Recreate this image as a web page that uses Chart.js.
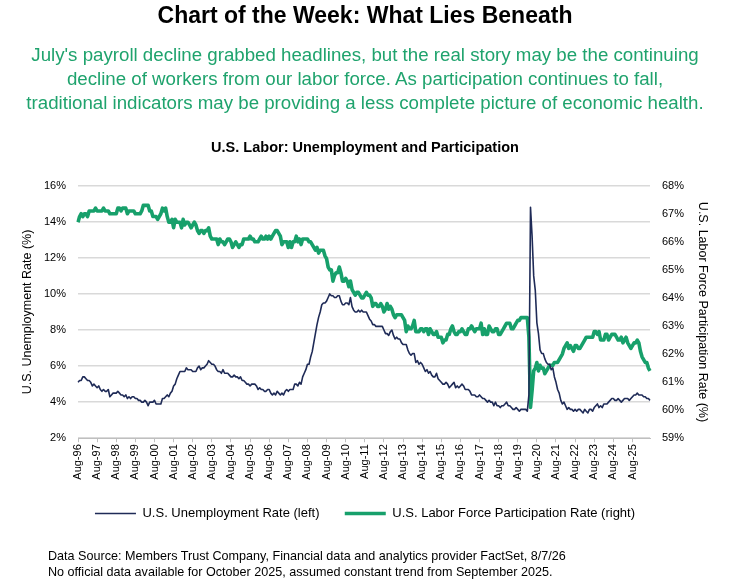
<!DOCTYPE html>
<html>
  <head>
    <meta charset="utf-8">
    <title>Chart of the Week: What Lies Beneath</title>
    <script src="https://cdn.jsdelivr.net/npm/chart.js@4"></script>
    <style>
      html, body { margin: 0; padding: 0; background: #fff; }
      body {
        position: relative; width: 730px; height: 584px; overflow: hidden;
        font-family: "Liberation Sans", Arial, sans-serif; color: #000;
      }
      #chart-box { position: absolute; left: 0; top: 0; width: 730px; height: 584px; }
      h1 {
        position: absolute; top: 1px; left: 0; width: 730px; margin: 0;
        text-align: center; font-size: 23px; line-height: 28px; font-weight: bold;
      }
      .lede {
        position: absolute; top: 43px; left: 0; width: 730px; margin: 0;
        text-align: center; font-size: 18.7px; line-height: 24px; color: #1fa36d;
      }
      .notes {
        position: absolute; top: 548px; left: 48px; margin: 0;
        font-size: 12.6px; line-height: 16px;
      }
    </style>
  </head>
  <body>
    <div id="chart-box"><canvas id="graph-labor"></canvas></div>
    <h1>Chart of the Week: What Lies Beneath</h1>
    <p class="lede">
      July's payroll decline grabbed headlines, but the real story may be the continuing<br>
      decline of workers from our labor force. As participation continues to fall,<br>
      traditional indicators may be providing a less complete picture of economic health.
    </p>
    <p class="notes">
      Data Source: Members Trust Company, Financial data and analytics provider FactSet, 8/7/26<br>
      No official data available for October 2025, assumed constant trend from September 2025.
    </p>

    <script>
      // Monthly series, Aug 1996 .. Jul 2026
      const firstYear = 1996
      const firstMonth = 7 // August
      const monthNames = ["Jan", "Feb", "Mar", "Apr", "May", "Jun", "Jul", "Aug", "Sep", "Oct", "Nov", "Dec"]

      const unemployment = [
        5.1, 5.2, 5.2, 5.4, 5.4,                                   // 1996 (Aug-Dec)
        5.3, 5.2, 5.2, 5.1, 4.9, 5.0, 4.9, 4.8, 4.9, 4.7, 4.6, 4.7, // 1997
        4.6, 4.6, 4.7, 4.3, 4.4, 4.5, 4.5, 4.5, 4.6, 4.5, 4.4, 4.4, // 1998
        4.3, 4.4, 4.2, 4.3, 4.2, 4.3, 4.3, 4.2, 4.2, 4.1, 4.1, 4.0, // 1999
        4.0, 4.1, 4.0, 3.8, 4.0, 4.0, 4.0, 4.1, 3.9, 3.9, 3.9, 3.9, // 2000
        4.2, 4.2, 4.3, 4.4, 4.3, 4.5, 4.6, 4.9, 5.0, 5.3, 5.5, 5.7, // 2001
        5.7, 5.7, 5.7, 5.9, 5.8, 5.8, 5.8, 5.7, 5.7, 5.7, 5.9, 6.0, // 2002
        5.8, 5.9, 5.9, 6.0, 6.1, 6.3, 6.2, 6.1, 6.1, 6.0, 5.8, 5.7, // 2003
        5.7, 5.6, 5.8, 5.6, 5.6, 5.6, 5.5, 5.4, 5.4, 5.5, 5.4, 5.4, // 2004
        5.3, 5.4, 5.2, 5.2, 5.1, 5.0, 5.0, 4.9, 5.0, 5.0, 5.0, 4.9, // 2005
        4.7, 4.8, 4.7, 4.7, 4.6, 4.6, 4.7, 4.7, 4.5, 4.4, 4.5, 4.4, // 2006
        4.6, 4.5, 4.4, 4.5, 4.4, 4.6, 4.7, 4.6, 4.7, 4.7, 4.7, 5.0, // 2007
        5.0, 4.9, 5.1, 5.0, 5.4, 5.6, 5.8, 6.1, 6.1, 6.5, 6.8, 7.3, // 2008
        7.8, 8.3, 8.7, 9.0, 9.4, 9.5, 9.5, 9.6, 9.8, 10.0, 9.9, 9.9, // 2009
        9.8, 9.8, 9.9, 9.9, 9.6, 9.4, 9.4, 9.5, 9.5, 9.4, 9.8, 9.3, // 2010
        9.1, 9.0, 9.0, 9.1, 9.0, 9.1, 9.0, 9.0, 9.0, 8.8, 8.6, 8.5, // 2011
        8.3, 8.3, 8.2, 8.2, 8.2, 8.2, 8.2, 8.0, 7.8, 7.8, 7.7, 7.9, // 2012
        8.0, 7.7, 7.5, 7.6, 7.5, 7.5, 7.3, 7.2, 7.2, 7.2, 6.9, 6.7, // 2013
        6.6, 6.7, 6.7, 6.2, 6.3, 6.1, 6.2, 6.1, 5.9, 5.7, 5.8, 5.6, // 2014
        5.7, 5.5, 5.4, 5.4, 5.6, 5.3, 5.2, 5.1, 5.0, 5.0, 5.1, 5.0, // 2015
        4.8, 4.9, 5.0, 5.1, 4.8, 4.9, 4.8, 4.9, 5.0, 4.9, 4.7, 4.7, // 2016
        4.7, 4.6, 4.4, 4.4, 4.4, 4.3, 4.3, 4.4, 4.3, 4.2, 4.2, 4.1, // 2017
        4.0, 4.1, 4.0, 4.0, 3.8, 4.0, 3.8, 3.8, 3.7, 3.8, 3.8, 3.9, // 2018
        4.0, 3.8, 3.8, 3.7, 3.6, 3.6, 3.7, 3.6, 3.5, 3.6, 3.6, 3.6, // 2019
        3.6, 3.5, 4.4, 14.8, 13.2, 11.0, 10.2, 8.4, 7.8, 6.9, 6.7, 6.7, // 2020
        6.4, 6.2, 6.1, 6.1, 5.8, 5.9, 5.4, 5.1, 4.7, 4.5, 4.1, 3.9, // 2021
        4.0, 3.8, 3.6, 3.7, 3.6, 3.6, 3.5, 3.6, 3.5, 3.6, 3.6, 3.5, // 2022
        3.4, 3.6, 3.5, 3.4, 3.6, 3.6, 3.5, 3.7, 3.8, 3.9, 3.7, 3.8, // 2023
        3.7, 3.9, 3.9, 3.9, 4.0, 4.1, 4.2, 4.2, 4.1, 4.1, 4.2, 4.1, // 2024
        4.0, 4.1, 4.2, 4.2, 4.2, 4.1, 4.2, 4.3, 4.4, 4.4, 4.5, 4.4, // 2025
        4.4, 4.4, 4.3, 4.3, 4.2, 4.2, 4.1,                          // 2026 (Jan-Jul)
      ]

      const participation = [
        66.7, 66.9, 67.0, 66.9, 67.0,                                     // 1996 (Aug-Dec)
        67.0, 66.9, 67.1, 67.1, 67.1, 67.1, 67.2, 67.1, 67.1, 67.1, 67.1, 67.2, // 1997
        67.1, 67.1, 67.1, 67.0, 67.0, 67.0, 67.0, 67.0, 67.2, 67.2, 67.1, 67.2, // 1998
        67.2, 67.2, 67.0, 67.1, 67.1, 67.1, 67.1, 67.0, 67.0, 67.0, 67.0, 67.1, // 1999
        67.3, 67.3, 67.3, 67.3, 67.1, 67.1, 66.9, 66.9, 66.9, 66.8, 66.9, 67.0, // 2000
        67.2, 67.1, 67.2, 66.9, 66.7, 66.7, 66.8, 66.5, 66.8, 66.7, 66.7, 66.7, // 2001
        66.5, 66.8, 66.6, 66.7, 66.7, 66.6, 66.5, 66.6, 66.7, 66.6, 66.4, 66.3, // 2002
        66.4, 66.4, 66.3, 66.4, 66.4, 66.5, 66.2, 66.1, 66.1, 66.1, 66.1, 65.9, // 2003
        66.1, 66.0, 66.0, 65.9, 66.0, 66.1, 66.1, 66.0, 65.8, 65.9, 66.0, 65.9, // 2004
        65.8, 65.9, 65.9, 66.1, 66.1, 66.1, 66.1, 66.2, 66.1, 66.1, 66.0, 66.0, // 2005
        66.0, 66.1, 66.2, 66.1, 66.1, 66.2, 66.1, 66.2, 66.1, 66.2, 66.3, 66.4, // 2006
        66.4, 66.3, 66.2, 65.9, 66.0, 66.0, 66.0, 65.8, 66.0, 65.8, 66.0, 66.0, // 2007
        66.2, 66.0, 66.1, 65.9, 66.1, 66.1, 66.1, 66.1, 66.0, 66.0, 65.9, 65.8, // 2008
        65.7, 65.8, 65.6, 65.7, 65.7, 65.7, 65.5, 65.4, 65.1, 65.0, 65.0, 64.6, // 2009
        64.8, 64.9, 64.9, 65.1, 64.9, 64.6, 64.6, 64.7, 64.6, 64.4, 64.6, 64.3, // 2010
        64.2, 64.1, 64.2, 64.2, 64.1, 64.0, 64.0, 64.1, 64.2, 64.1, 64.1, 64.0, // 2011
        63.7, 63.8, 63.8, 63.7, 63.7, 63.8, 63.7, 63.5, 63.6, 63.8, 63.6, 63.7, // 2012
        63.6, 63.4, 63.3, 63.4, 63.4, 63.4, 63.4, 63.3, 63.2, 62.8, 63.0, 62.9, // 2013
        62.9, 63.0, 63.2, 62.8, 62.8, 62.8, 62.9, 62.9, 62.8, 62.9, 62.9, 62.7, // 2014
        62.9, 62.8, 62.7, 62.7, 62.8, 62.6, 62.6, 62.6, 62.4, 62.5, 62.5, 62.7, // 2015
        62.7, 62.9, 63.0, 62.8, 62.7, 62.7, 62.8, 62.8, 62.9, 62.8, 62.7, 62.7, // 2016
        62.9, 62.9, 63.0, 62.9, 62.8, 62.9, 62.9, 62.9, 63.1, 62.7, 62.9, 62.7, // 2017
        62.7, 63.0, 62.9, 62.8, 62.8, 62.9, 62.9, 62.7, 62.7, 62.8, 62.9, 63.0, // 2018
        63.1, 63.1, 63.1, 62.9, 62.9, 63.0, 63.1, 63.2, 63.2, 63.3, 63.3, 63.3, // 2019
        63.3, 63.3, 62.6, 60.1, 60.7, 61.4, 61.5, 61.7, 61.4, 61.6, 61.5, 61.5, // 2020
        61.3, 61.4, 61.5, 61.6, 61.6, 61.6, 61.7, 61.7, 61.7, 61.8, 61.9, 62.0, // 2021
        62.2, 62.3, 62.4, 62.2, 62.3, 62.2, 62.1, 62.3, 62.3, 62.2, 62.2, 62.3, // 2022
        62.4, 62.5, 62.6, 62.6, 62.6, 62.6, 62.6, 62.8, 62.8, 62.7, 62.8, 62.5, // 2023
        62.5, 62.5, 62.7, 62.7, 62.5, 62.6, 62.7, 62.7, 62.7, 62.6, 62.5, 62.5, // 2024
        62.6, 62.4, 62.5, 62.6, 62.4, 62.3, 62.2, 62.3, 62.4, 62.4, 62.5, 62.4, // 2025
        62.1, 61.9, 61.8, 61.7, 61.7, 61.5, 61.4,                               // 2026 (Jan-Jul)
      ]

      const palette = {
        navy: "#1f2b57",
        green: "#17a06b",
        grid: "#d9d9d9",
        axis: "#bfbfbf",
      }

      // "Aug-96" style month labels, one per data point
      const monthLabels = unemployment.map((_, i) => {
        const m = firstMonth + i
        const year = firstYear + Math.floor(m / 12)
        return `${monthNames[m % 12]}-${String(year % 100).padStart(2, "0")}`
      })

      Chart.defaults.font.family = '"Liberation Sans", Arial, sans-serif'
      Chart.defaults.color = "#000"

      new Chart(document.getElementById("graph-labor"), {
        type: "line",
        data: {
          labels: monthLabels,
          datasets: [
            {
              label: "U.S. Unemployment Rate (left)",
              data: unemployment,
              yAxisID: "left",
              borderColor: palette.navy,
              backgroundColor: palette.navy,
              borderWidth: 1.6,
            },
            {
              label: "U.S. Labor Force Participation Rate (right)",
              data: participation,
              yAxisID: "right",
              borderColor: palette.green,
              backgroundColor: palette.green,
              borderWidth: 3.6,
            },
          ],
        },
        options: {
          responsive: true,
          maintainAspectRatio: false,
          animation: false,
          elements: {
            point: { radius: 0 },
            line: { tension: 0, borderJoinStyle: "round" },
          },
          layout: { padding: { top: 139, left: 16, right: 16, bottom: 54 } },
          plugins: {
            title: {
              display: true,
              text: "U.S. Labor: Unemployment and Participation",
              font: { size: 14.5, weight: "bold" },
              padding: { top: 0, bottom: 29.3 },
            },
            legend: {
              position: "bottom",
              labels: {
                usePointStyle: true,
                pointStyle: "line",
                pointStyleWidth: 41,
                padding: 25.3,
                font: { size: 13 },
              },
            },
            tooltip: { enabled: false },
          },
          scales: {
            x: {
              offset: false,
              grid: { drawOnChartArea: false, tickLength: 4, color: palette.axis },
              border: { color: palette.axis },
              ticks: {
                autoSkip: false,
                minRotation: 90,
                maxRotation: 90,
                padding: 2,
                font: { size: 11 },
                // only the August of each year gets a label and tick mark
                callback(value, index) {
                  return index % 12 === 0 ? this.getLabelForValue(value) : null
                },
              },
            },
            left: {
              position: "left",
              min: 2,
              max: 16,
              ticks: { stepSize: 2, padding: 12, font: { size: 11 }, callback: v => v + "%" },
              grid: { color: palette.grid, lineWidth: 1.5, drawTicks: false },
              border: { display: false },
              title: {
                display: true,
                text: "U.S. Unemployment Rate (%)",
                font: { size: 12.5 },
                padding: { top: 4, bottom: 0 },
              },
              afterFit(scale) { scale.width = 62 },
            },
            right: {
              position: "right",
              min: 59,
              max: 68,
              ticks: { stepSize: 1, padding: 12, font: { size: 11 }, callback: v => v + "%" },
              grid: { drawOnChartArea: false, drawTicks: false },
              border: { display: false },
              title: {
                display: true,
                text: "U.S. Labor Force Participation Rate (%)",
                font: { size: 12.5 },
                padding: { top: 4, bottom: 0 },
              },
              afterFit(scale) { scale.width = 64 },
            },
          },
        },
      })
    </script>
  </body>
</html>
